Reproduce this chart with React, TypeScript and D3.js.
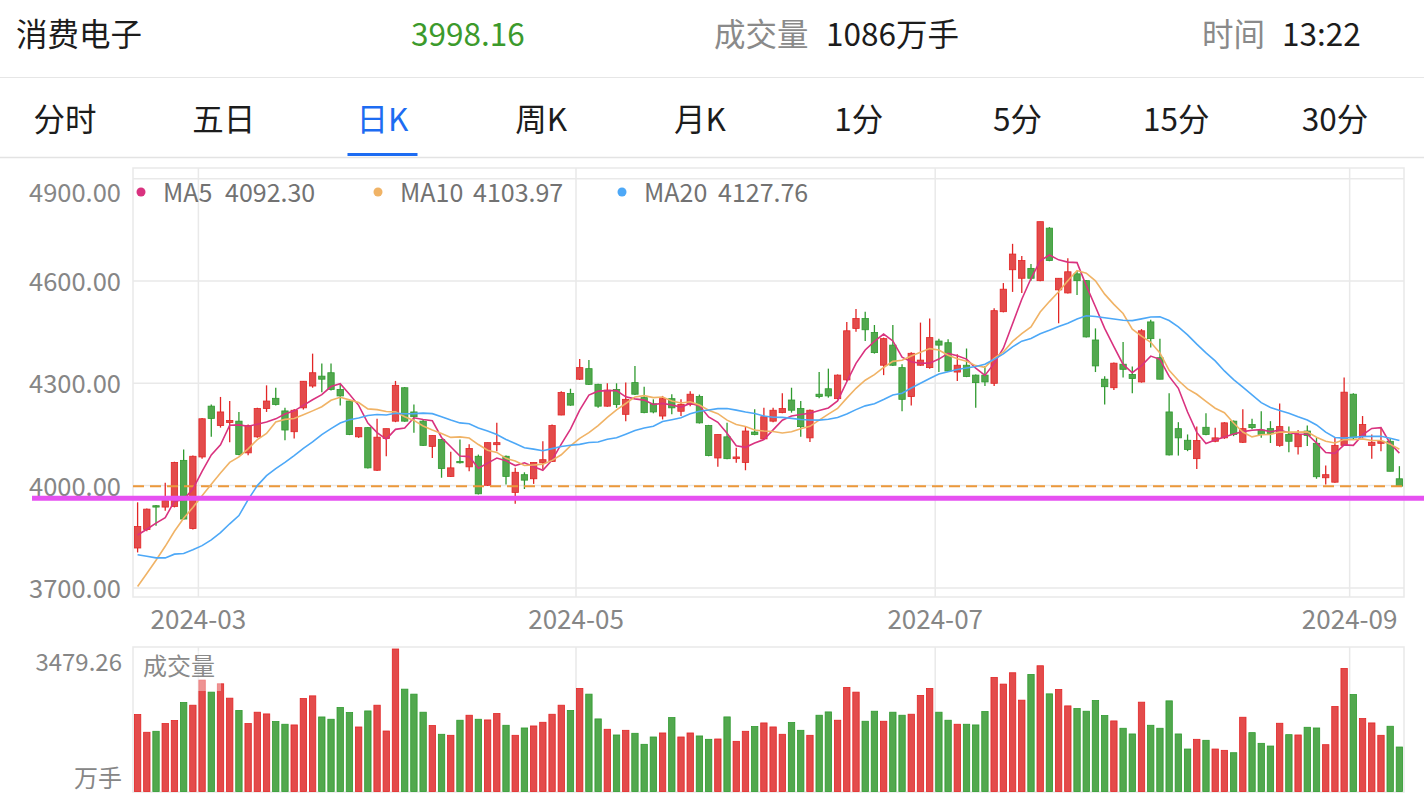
import React from 'react';
import * as d3 from 'd3';

// ---------- text ----------
const TITLE = '消费电子';
const VOLUME_LABEL = '成交量';
const TIME_LABEL = '时间';
const TIME_VALUE = '13:22';
const TABS = ['分时', '五日', '日K', '周K', '月K', '1分', '5分', '15分', '30分'];
const ACTIVE_TAB = 2;
const MA_NAMES = ['MA5', 'MA10', 'MA20'];
const MA_PERIODS = [5, 10, 20];
const MA_LATEST = ['4092.30', '4103.97', '4127.76'];
const MA_COLORS = ['#d9327f', '#f0b366', '#4da8f7'];

// ---------- categories (trading days) ----------
const TRADING_DAYS: [string, number[]][] = [
  ['2024-02', [21, 22, 23, 26, 27, 28, 29]],
  ['2024-03', [1, 4, 5, 6, 7, 8, 11, 12, 13, 14, 15, 18, 19, 20, 21, 22, 25, 26, 27, 28, 29]],
  ['2024-04', [1, 2, 3, 8, 9, 10, 11, 12, 15, 16, 17, 18, 19, 22, 23, 24, 25, 26, 29, 30]],
  ['2024-05', [6, 7, 8, 9, 10, 13, 14, 15, 16, 17, 20, 21, 22, 23, 24, 27, 28, 29, 30, 31]],
  ['2024-06', [3, 4, 5, 6, 7, 11, 12, 13, 14, 17, 18, 19, 20, 21, 24, 25, 26, 27, 28]],
  ['2024-07', [1, 2, 3, 4, 5, 8, 9, 10, 11, 12, 15, 16, 17, 18, 19, 22, 23, 24, 25, 26, 29, 30, 31]],
  ['2024-08', [1, 2, 5, 6, 7, 8, 9, 12, 13, 14, 15, 16, 19, 20, 21, 22, 23, 26, 27, 28, 29, 30]],
  ['2024-09', [2, 3, 4, 5, 6, 9]],
];
const X_TICK_MONTHS = ['2024-03', '2024-05', '2024-07', '2024-09'];
const Y_TICKS = [3700, 4000, 4300, 4600, 4900];
const VOLUME_MAX_LABEL = '3479.26';
const VOLUME_UNIT = '万手';
const SUPPORT_LINE = 3963;

// ---------- series ----------
const OPEN = [
  3817, 3871, 3941, 3937, 3939, 4074, 3874, 4084, 4233, 4176, 4185, 4189, 4096, 4143, 4226, 4256, 4219, 4158, 4228, 4292,
  4321, 4331, 4282, 4248, 4143, 4170, 4045, 4138, 4189, 4287, 4216, 4189, 4115, 4135, 4027, 4071, 4055, 4086, 4001, 4120,
  4086, 3980, 4032, 4020, 4067, 4071, 4207, 4270, 4312, 4343, 4297, 4233, 4282, 4209, 4302, 4258, 4240, 4204, 4255, 4218,
  4238, 4261, 4176, 4081, 4143, 4079, 4068, 4157, 4137, 4189, 4214, 4251, 4226, 4140, 4268, 4284, 4255, 4310, 4461, 4490,
  4449, 4353, 4412, 4346, 4261, 4353, 4346, 4424, 4419, 4333, 4353, 4324, 4324, 4300, 4510, 4633, 4608, 4637, 4601, 4755,
  4574, 4565, 4621, 4601, 4427, 4312, 4287, 4356, 4326, 4304, 4480, 4375, 4216, 4167, 4133, 4079, 4171, 4130, 4140, 4189,
  4127, 4179, 4163, 4167, 4118, 4150, 4114, 4160, 4124, 4023, 4010, 4118, 4268, 4145, 4118, 4124, 4130, 4020,
];
const HIGH = [
  3951, 3933, 3943, 4008, 4070, 4106, 4088, 4198, 4238, 4260, 4248, 4216, 4179, 4228, 4294, 4287, 4228, 4225, 4306, 4387,
  4358, 4358, 4299, 4253, 4170, 4172, 4196, 4167, 4307, 4289, 4238, 4194, 4147, 4137, 4099, 4135, 4121, 4091, 4126, 4184,
  4088, 4052, 4039, 4068, 4130, 4179, 4277, 4284, 4371, 4368, 4299, 4300, 4300, 4302, 4351, 4290, 4253, 4263, 4268, 4253,
  4277, 4267, 4178, 4150, 4184, 4111, 4173, 4224, 4228, 4228, 4271, 4287, 4248, 4223, 4333, 4343, 4326, 4480, 4518, 4510,
  4471, 4434, 4471, 4356, 4391, 4478, 4490, 4431, 4429, 4385, 4402, 4326, 4351, 4520, 4594, 4709, 4673, 4650, 4774, 4758,
  4608, 4667, 4630, 4603, 4461, 4321, 4361, 4421, 4349, 4459, 4486, 4431, 4271, 4186, 4150, 4173, 4212, 4170, 4186, 4191,
  4224, 4196, 4218, 4189, 4241, 4173, 4163, 4176, 4140, 4059, 4140, 4317, 4271, 4204, 4150, 4170, 4137, 4057,
];
const LOW = [
  3804, 3866, 3882, 3926, 3936, 3900, 3871, 4079, 4143, 4170, 4127, 4089, 4089, 4140, 4216, 4235, 4133, 4138, 4223, 4287,
  4274, 4279, 4235, 4148, 4140, 4050, 4043, 4086, 4186, 4187, 4155, 4116, 4081, 4023, 4025, 4065, 4042, 3974, 3999, 4101,
  4003, 3947, 3990, 4005, 4049, 4069, 4206, 4234, 4310, 4295, 4228, 4231, 4228, 4189, 4266, 4212, 4212, 4194, 4209, 4204,
  4233, 4182, 4086, 4055, 4077, 4067, 4045, 4148, 4135, 4186, 4212, 4214, 4143, 4128, 4256, 4258, 4253, 4307, 4451, 4424,
  4387, 4324, 4351, 4218, 4235, 4351, 4343, 4333, 4333, 4307, 4318, 4228, 4292, 4292, 4508, 4568, 4565, 4601, 4599, 4658,
  4476, 4563, 4559, 4434, 4333, 4238, 4280, 4317, 4271, 4302, 4405, 4312, 4088, 4088, 4101, 4049, 4148, 4127, 4137, 4145,
  4125, 4165, 4140, 4125, 4114, 4098, 4091, 4116, 4020, 4003, 4008, 4116, 4135, 4140, 4079, 4101, 4042, 3996,
];
const CLOSE = [
  3880, 3931, 3937, 3956, 4068, 3902, 4086, 4196, 4197, 4216, 4191, 4091, 4176, 4226, 4248, 4238, 4163, 4221, 4306, 4331,
  4312, 4282, 4263, 4150, 4170, 4052, 4142, 4167, 4294, 4189, 4202, 4118, 4147, 4050, 4052, 4067, 4109, 3976, 4126, 4126,
  4027, 4039, 4016, 4068, 4076, 4176, 4273, 4236, 4346, 4297, 4233, 4280, 4238, 4253, 4268, 4214, 4216, 4255, 4228, 4238,
  4268, 4184, 4088, 4150, 4079, 4084, 4160, 4150, 4202, 4221, 4226, 4221, 4173, 4221, 4261, 4263, 4324, 4454, 4490, 4457,
  4390, 4431, 4353, 4253, 4388, 4368, 4434, 4412, 4336, 4353, 4320, 4302, 4304, 4513, 4576, 4679, 4660, 4608, 4774, 4660,
  4608, 4627, 4601, 4436, 4351, 4290, 4359, 4341, 4314, 4454, 4431, 4312, 4090, 4140, 4106, 4132, 4150, 4140, 4184, 4150,
  4167, 4170, 4150, 4153, 4173, 4130, 4150, 4147, 4026, 4032, 4118, 4274, 4140, 4179, 4127, 4130, 4042, 3998.16,
];
const VOLUME = [
  1879, 1446, 1470, 1658, 1732, 2173, 2107, 2720, 2426, 2629, 2279, 1977, 1658, 1936, 1894, 1707, 1642, 1625, 2271, 2335,
  1820, 1764, 2051, 1928, 1575, 1967, 2107, 1477, 3479.26, 2499, 2377, 1936, 1610, 1397, 1372, 1740, 1862, 1764, 1747, 1904,
  1617, 1372, 1551, 1600, 1690, 1886, 2107, 1977, 2516, 2377, 1772, 1519, 1380, 1494, 1421, 1152, 1331, 1429, 1805, 1331,
  1429, 1356, 1274, 1282, 1821, 1225, 1470, 1585, 1674, 1576, 1397, 1683, 1494, 1372, 1862, 1943, 1740, 2541, 2426, 1715,
  1960, 1715, 1936, 1862, 1887, 2345, 2516, 1936, 1740, 1642, 1642, 1625, 1952, 2786, 2622, 2899, 2230, 2859, 3070, 2384,
  2491, 2090, 2025, 1960, 2221, 1854, 1723, 1544, 1405, 2181, 1617, 1544, 2213, 1405, 1037, 1274, 1250, 1037, 1005, 947,
  1813, 1437, 1176, 1110, 1666, 1388, 1380, 1568, 1551, 1143, 2074, 3005, 2368, 1780, 1674, 1372, 1593, 1086,
];
// moving-average values for the first days (their window starts before the visible range)
const MA5_START = [3855, 3872, 3890, 3906];
const MA10_START = [3704, 3742, 3781, 3822, 3866, 3904, 3936, 3970, 4004];
const MA20_START = [3797, 3793, 3788, 3788, 3799, 3801, 3812, 3824, 3841, 3862, 3888, 3912, 3959, 4000, 4029, 4050, 4068, 4088, 4109];
const MA_STARTS = [MA5_START, MA10_START, MA20_START];

// ---------- helpers ----------
const DATES: string[] = TRADING_DAYS.flatMap(([m, days]) => days.map((d) => `${m}-${String(d).padStart(2, '0')}`));
const N = DATES.length;

function movingAverage(values: number[], period: number, start: number[]): number[] {
  return values.map((_, i) => {
    if (i < period - 1) return start[i];
    return d3.mean(values.slice(i - period + 1, i + 1)) as number;
  });
}

const FONT = '"Noto Sans CJK SC", "Noto Sans", sans-serif';
const RED = '#e34b4b';
const RED_EDGE = '#e22525';
const GREEN = '#52a84e';
const GREEN_EDGE = '#2f9a2f';
const GRID = '#e9e9e9';
const AXIS_TEXT = '#868686';

export default function App() {
  const W = 1424;
  const H = 804;
  const plot = { left: 133, right: 1404, top: 168, bottom: 597 };
  const vol = { top: 647, bottom: 792 };

  const x = d3
    .scaleBand<string>()
    .domain(DATES)
    .range([plot.left, plot.right])
    .paddingInner(0.2)
    .paddingOuter(0.1);
  const bw = x.bandwidth();
  const cx = (i: number) => (x(DATES[i]) as number) + bw / 2;

  const y = d3.scaleLinear().domain([3700, 4900]).range([587.9, 178.7]);
  const vy = d3.scaleLinear().domain([0, 3479.26]).range([vol.bottom - 0.5, 649]);

  const mas = MA_PERIODS.map((p, k) => movingAverage(CLOSE, p, MA_STARTS[k]));
  const line = d3
    .line<number>()
    .x((_, i) => cx(i))
    .y((v) => y(v));

  const monthStart = X_TICK_MONTHS.map((m) => DATES.findIndex((d) => d.startsWith(m)));

  const lastClose = CLOSE[N - 1];
  const lastVol = VOLUME[N - 1];

  const tabStep = 158.75;

  return (
    <div style={{ position: 'absolute', left: 0, top: 0, width: W, height: H, background: '#fff' }}>
      <svg width={W} height={H} style={{ display: 'block', fontFamily: FONT }}>
        <rect x={0} y={0} width={W} height={H} fill="#fff" />
        {/* header */}
        <g fontSize={31.5} dominantBaseline="central">
          <text x={16} y={31.5} fill="#1c1c1c">{TITLE}</text>
          <text x={411} y={31.5} fill="#3c9a2c">{lastClose.toFixed(2)}</text>
          <text x={714} y={31.5} fill="#8a8a8a">{VOLUME_LABEL}</text>
          <text x={826} y={31.5} fill="#1c1c1c">{`${Math.round(lastVol)}万手`}</text>
          <text x={1202} y={31.5} fill="#8a8a8a">{TIME_LABEL}</text>
          <text x={1282} y={31.5} fill="#1c1c1c">{TIME_VALUE}</text>
        </g>
        <line x1={0} x2={W} y1={77.5} y2={77.5} stroke="#e6e6e6" />
        {/* tabs */}
        <g fontSize={31.5} dominantBaseline="central" textAnchor="middle">
          {TABS.map((t, i) => (
            <text key={t} x={65 + tabStep * i} y={116.5} fill={i === ACTIVE_TAB ? '#1d6cf2' : '#1c1c1c'}>
              {t}
            </text>
          ))}
        </g>
        <rect x={65 + tabStep * ACTIVE_TAB - 35} y={153} width={70} height={3} fill="#1d6cf2" />
        <line x1={0} x2={W} y1={157.5} y2={157.5} stroke="#e3e3e3" strokeWidth={1.5} />

        {/* main plot grid */}
        <rect x={plot.left} y={plot.top} width={plot.right - plot.left} height={plot.bottom - plot.top} fill="none" stroke={GRID} strokeWidth={1.5} />
        {Y_TICKS.map((t) => (
          <line key={t} x1={plot.left} x2={plot.right} y1={y(t)} y2={y(t)} stroke={GRID} strokeWidth={1.5} />
        ))}
        {monthStart.map((i) => (
          <line key={i} x1={x(DATES[i])} x2={x(DATES[i])} y1={plot.top} y2={plot.bottom} stroke={GRID} strokeWidth={1.5} />
        ))}
        <g fontSize={25.5} fill={AXIS_TEXT} textAnchor="end" dominantBaseline="central">
          {Y_TICKS.map((t, k) => (
            <text key={t} x={121} y={(k === Y_TICKS.length - 1 ? y(t) + 13 : y(t)) - 1.5}>
              {t.toFixed(2)}
            </text>
          ))}
        </g>
        <g fontSize={26} fill={AXIS_TEXT} textAnchor="middle" dominantBaseline="central">
          {monthStart.map((i, k) => (
            <text key={i} x={x(DATES[i])} y={617}>
              {X_TICK_MONTHS[k]}
            </text>
          ))}
        </g>

        {/* legend */}
        <g fontSize={25} fill="#727272" dominantBaseline="central">
          {[141, 378, 622].map((lx, k) => (
            <g key={k}>
              <circle cx={lx} cy={192} r={4.5} fill={MA_COLORS[k]} />
              <text x={lx + 22} y={190.5}>{MA_NAMES[k]}</text>
              <text x={[225, 473, 718][k]} y={190.5}>{MA_LATEST[k]}</text>
            </g>
          ))}
        </g>

        {/* candles */}
        {DATES.map((d, i) => {
          const up = CLOSE[i] >= OPEN[i];
          const top = y(Math.max(OPEN[i], CLOSE[i]));
          const bot = y(Math.min(OPEN[i], CLOSE[i]));
          return (
            <g key={d}>
              <line x1={cx(i)} x2={cx(i)} y1={y(HIGH[i])} y2={y(LOW[i])} stroke={up ? RED_EDGE : GREEN_EDGE} strokeWidth={1.3} />
              <rect
                x={(x(d) as number) + 0.5}
                y={top}
                width={bw - 1}
                height={Math.max(1, bot - top)}
                fill={up ? RED : GREEN}
                stroke={up ? RED_EDGE : GREEN_EDGE}
                strokeWidth={0.8}
              />
            </g>
          );
        })}

        {/* last price dashed line */}
        <line x1={plot.left} x2={plot.right} y1={y(lastClose)} y2={y(lastClose)} stroke="#ec983a" strokeWidth={2} strokeDasharray="11 6" />

        {/* moving averages */}
        {mas.map((m, k) => (
          <path key={k} d={line(m) as string} fill="none" stroke={MA_COLORS[k]} strokeWidth={1.6} />
        ))}

        {/* support line */}
        <line x1={32} x2={W} y1={y(SUPPORT_LINE)} y2={y(SUPPORT_LINE)} stroke="#e651f1" strokeWidth={5} />

        {/* volume panel */}
        <rect x={plot.left} y={vol.top} width={plot.right - plot.left} height={vol.bottom - vol.top} fill="none" stroke={GRID} strokeWidth={1.5} />
        {monthStart.map((i) => (
          <line key={i} x1={x(DATES[i])} x2={x(DATES[i])} y1={vol.top} y2={vol.bottom} stroke={GRID} strokeWidth={1.5} />
        ))}
        {DATES.map((d, i) => {
          const up = CLOSE[i] >= OPEN[i];
          const top = vy(VOLUME[i]);
          return (
            <rect
              key={d}
              x={(x(d) as number) + 0.5}
              y={top}
              width={bw - 1}
              height={vy(0) - top}
              fill={up ? RED : GREEN}
              stroke={up ? RED_EDGE : GREEN_EDGE}
              strokeWidth={0.8}
            />
          );
        })}
        <rect x={137} y={651} width={84} height={40} fill="#fff" opacity={0.4} />
        <text x={143} y={664} fontSize={24} fill="#8a8a8a" dominantBaseline="central">{VOLUME_LABEL}</text>
        <g fontSize={24} fill={AXIS_TEXT} textAnchor="end" dominantBaseline="central">
          <text x={122} y={660.5}>{VOLUME_MAX_LABEL}</text>
          <text x={122} y={776.5}>{VOLUME_UNIT}</text>
        </g>
      </svg>
    </div>
  );
}
